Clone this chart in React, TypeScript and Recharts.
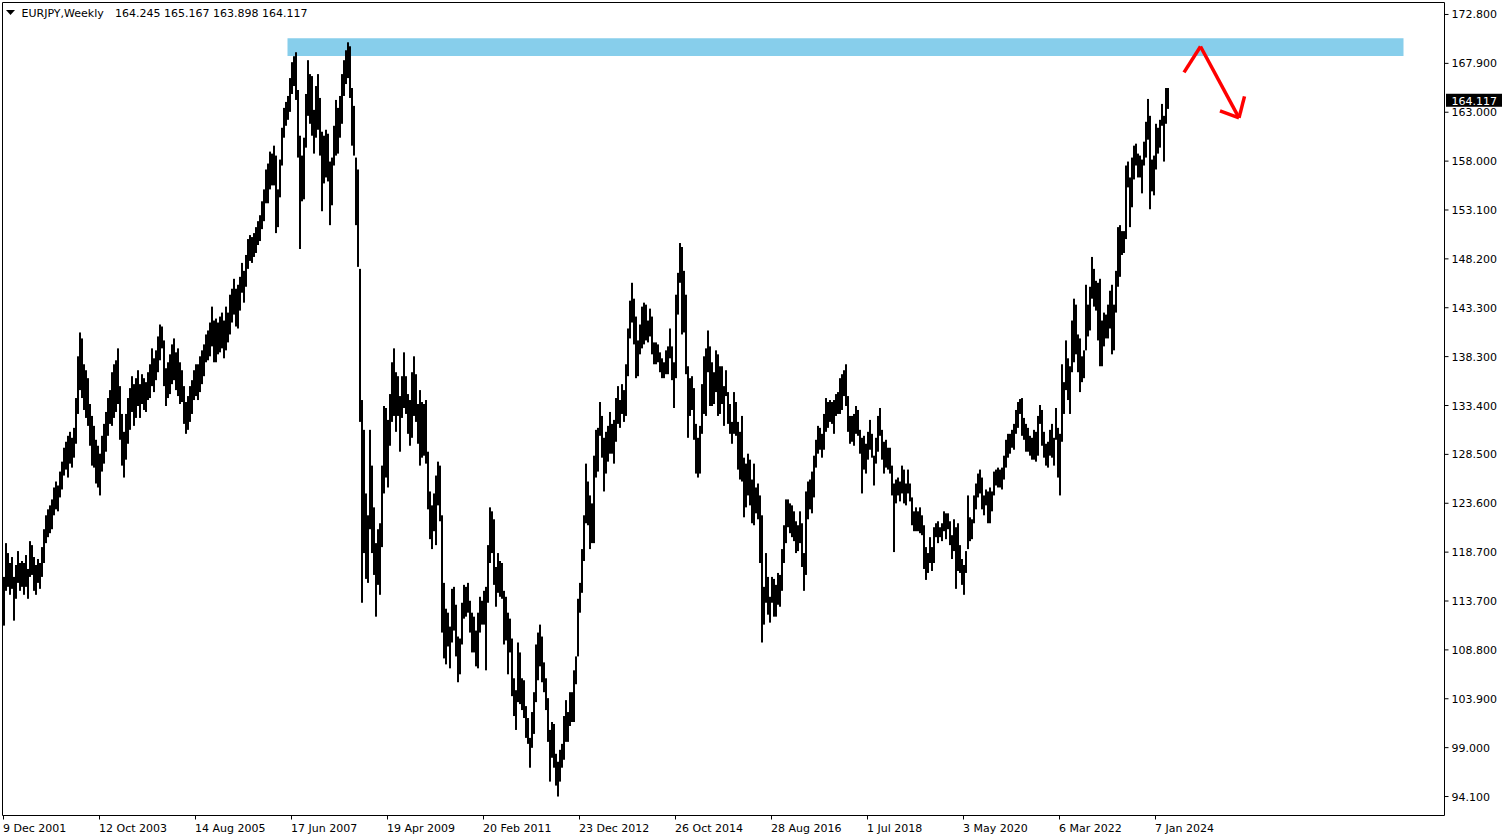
import React from 'react';
import { ComposedChart, Bar, XAxis, YAxis, ReferenceArea, ReferenceLine } from 'recharts';

// ---- header / last bar ----
const symbolTitle = 'EURJPY,Weekly';
const lastOHLC = [164.245, 165.167, 163.898, 164.117];

// ---- axis ticks ----
const xTickWeeks = [0, 96, 192, 288, 384, 480, 576, 672, 768, 864, 960, 1056, 1152];
const xTickLabels = ['9 Dec 2001', '12 Oct 2003', '14 Aug 2005', '17 Jun 2007', '19 Apr 2009', '20 Feb 2011', '23 Dec 2012', '26 Oct 2014', '28 Aug 2016', '1 Jul 2018', '3 May 2020', '6 Mar 2022', '7 Jan 2024'];
const yTickValues = [172.8, 167.881, 162.963, 158.044, 153.125, 148.206, 143.288, 138.369, 133.45, 128.531, 123.613, 118.694, 113.775, 108.856, 103.938, 99.019, 94.1];
const yTickLabels = ['172.800', '167.900', '163.000', '158.000', '153.100', '148.200', '143.300', '138.300', '133.400', '128.500', '123.600', '118.700', '113.700', '108.800', '103.900', '99.000', '94.100'];
const xDomain = [-1, 1441];
const yDomain = [92.19, 174.006];

// ---- annotations ----
const zoneWeeks = [284, 1400];
const zonePrices = [168.61, 170.42];
const arrowWeeks = [1180.5, 1197, 1235.5];
const arrowPrices = [166.97, 169.58, 162.4];
const arrowHeadWeeks = [1216.5, 1241];
const arrowHeadPrices = [163.1, 164.56];

// ---- two-week low/high ranges (each entry covers 2 weekly bars) ----
const r2001 = [[111.3,116.2],[114.8,119.6]];
const r2002 = [[115.2,118.6],[114.4,117.6],[115.0,118.2],[111.8,116.2],[114.0,117.4],[115.6,118.8],[114.8,117.6],[115.2,117.8],[114.4,117.6],[115.2,118.4],[114.0,117.0],[116.2,119.8],[116.4,119.4],[114.8,118.2],[114.4,117.4],[115.6,118.0],[115.0,117.6],[116.2,119.2],[117.6,121.0],[119.6,122.4],[120.2,123.0],[120.6,123.4],[121.0,124.0],[122.4,125.2],[123.0,125.8],[122.8,125.4]];
const r2003 = [[124.2,126.8],[125.0,127.8],[126.4,129.2],[127.0,129.8],[126.2,130.4],[127.6,130.8],[127.2,130.2],[128.2,131.2],[129.6,134.2],[132.6,138.4],[135.0,140.8],[134.2,140.2],[133.0,137.6],[132.2,137.0],[131.4,136.2],[129.4,133.6],[127.4,132.4],[127.2,131.4],[125.6,130.0],[125.2,129.4],[124.4,128.6],[126.8,130.4],[127.6,131.6],[128.8,132.8],[130.4,134.2],[131.6,135.0]];
const r2004 = [[131.4,136.8],[132.2,137.6],[132.8,138.0],[133.6,139.2],[130.0,135.4],[127.4,132.6],[126.2,130.8],[128.0,132.6],[129.6,134.2],[131.0,135.2],[132.8,136.4],[131.4,135.6],[132.2,136.2],[133.4,137.0],[132.2,135.6],[133.6,136.6],[133.0,136.2],[132.8,135.8],[134.0,136.8],[134.2,137.6],[135.4,139.2],[134.8,138.2],[136.0,139.0],[136.8,140.4],[138.0,141.6],[139.2,141.4]];
const r2005 = [[135.4,140.0],[133.4,137.2],[134.2,137.8],[134.6,138.6],[135.6,139.6],[136.0,140.2],[135.0,138.8],[134.4,139.2],[133.6,137.8],[133.8,137.0],[131.6,135.4],[130.6,133.8],[131.0,134.4],[131.8,135.4],[132.6,136.0],[134.0,137.0],[134.4,137.6],[134.0,137.6],[134.8,138.4],[135.6,139.0],[136.4,139.6],[137.8,140.6],[138.0,141.0],[138.4,141.8],[139.4,143.4],[137.8,142.0]];
const r2006 = [[137.8,142.2],[138.6,141.8],[138.8,142.4],[139.2,142.8],[138.2,142.0],[139.0,143.4],[139.8,142.8],[140.6,144.6],[141.8,145.2],[142.6,146.2],[141.4,145.2],[141.2,145.6],[143.0,146.4],[144.8,147.8],[143.8,147.0],[145.4,148.6],[147.2,150.2],[148.0,150.6],[147.8,150.4],[148.4,150.8],[148.8,151.4],[149.6,152.0],[150.0,152.6],[151.2,154.0],[152.0,155.2],[153.8,157.2]];
const r2007 = [[153.8,157.8],[155.2,159.0],[155.6,158.8],[155.6,159.6],[150.8,158.6],[151.4,155.2],[154.4,158.2],[157.6,161.4],[160.4,163.4],[161.6,164.0],[162.2,164.6],[163.0,166.4],[164.8,168.0],[165.6,168.6],[164.2,169.0],[158.4,165.2],[149.2,160.6],[154.0,158.6],[154.2,160.4],[159.4,164.8],[162.6,168.2],[161.8,166.8],[160.6,166.6],[158.8,163.2],[160.4,165.6],[161.2,166.8]];
const r2008 = [[158.6,164.4],[153.0,161.0],[155.8,160.6],[156.4,161.2],[156.0,160.8],[151.6,158.0],[153.6,158.4],[157.6,161.6],[158.6,164.2],[158.8,163.4],[160.4,164.6],[161.8,166.8],[164.6,168.2],[165.8,169.2],[166.4,170.0],[164.4,169.6],[159.6,165.4],[158.6,163.6],[151.6,158.4],[147.4,157.2],[131.8,147.2],[113.6,134.0],[118.6,131.0],[116.0,124.6],[115.6,122.4],[121.0,131.0]];
const r2009 = [[118.6,127.4],[116.4,123.2],[112.2,119.6],[115.4,121.0],[114.4,121.6],[119.2,127.4],[124.6,133.4],[126.2,133.2],[125.2,132.0],[129.4,134.6],[131.8,137.8],[132.4,139.2],[130.8,136.8],[132.4,136.4],[128.8,134.4],[132.2,136.4],[133.2,138.8],[132.6,136.4],[130.6,134.6],[129.4,134.0],[130.2,136.8],[132.4,138.4],[131.8,136.6],[129.6,133.6],[127.4,135.0],[128.2,133.8]];
const r2010 = [[128.4,133.6],[127.6,134.0],[123.0,128.8],[120.0,124.8],[119.0,123.4],[120.8,124.6],[119.4,126.4],[123.4,127.8],[121.8,127.4],[110.6,122.4],[108.0,115.6],[107.4,113.0],[109.2,112.6],[107.0,111.2],[109.6,115.0],[110.8,115.2],[108.2,113.4],[105.6,110.2],[106.4,110.0],[109.4,113.6],[112.0,115.4],[112.2,115.2],[112.6,115.6],[110.6,113.8],[108.6,112.6],[108.6,112.2]];
const r2011 = [[107.2,110.8],[107.0,112.6],[110.6,114.2],[111.4,113.8],[111.4,114.8],[106.8,115.2],[113.6,119.4],[117.6,123.2],[118.6,122.8],[115.4,122.0],[113.2,117.2],[114.6,118.6],[114.2,117.8],[114.0,117.6],[109.4,114.8],[109.8,114.2],[106.4,112.6],[108.6,112.0],[104.2,110.0],[102.2,106.0],[100.8,104.8],[103.6,109.6],[103.4,108.6],[102.8,106.0],[102.0,105.8],[100.0,103.2]];
const r2012 = [[99.4,102.0],[97.0,100.0],[99.0,102.6],[100.4,104.6],[103.6,109.4],[105.8,110.6],[107.2,111.4],[105.6,110.2],[104.6,107.6],[102.8,106.0],[99.6,104.0],[95.6,100.8],[98.0,101.6],[97.0,101.4],[95.2,98.4],[94.1,97.6],[95.6,98.8],[97.0,99.4],[97.8,102.2],[99.6,103.8],[99.6,102.6],[101.2,104.6],[101.6,104.6],[101.6,106.8],[105.4,108.2],[108.2,114.0]];
const r2013 = [[112.6,115.6],[114.6,119.0],[117.8,122.4],[121.6,127.6],[121.4,125.8],[119.0,124.4],[119.6,123.6],[119.6,128.4],[126.2,131.0],[126.8,131.2],[130.4,133.8],[128.2,132.4],[124.8,130.2],[126.6,130.8],[127.8,131.4],[128.6,132.8],[128.6,131.6],[127.6,132.0],[129.8,134.2],[131.6,135.4],[131.2,134.0],[132.6,135.6],[131.8,135.0],[132.4,137.6],[136.4,141.2],[140.2,144.0]];
const r2014 = [[141.8,145.8],[139.6,144.2],[136.2,142.4],[136.4,140.0],[138.6,141.6],[139.2,143.4],[139.6,143.8],[140.0,143.6],[139.8,142.0],[140.4,143.2],[138.6,142.4],[137.6,139.8],[137.6,139.8],[137.8,139.6],[136.8,138.8],[136.2,138.2],[136.2,137.8],[136.6,139.0],[136.6,139.4],[138.2,141.2],[136.0,139.4],[133.2,137.8],[136.2,144.6],[142.6,146.8],[145.8,149.8],[140.6,149.4]];
const r2015 = [[140.8,147.0],[136.6,144.6],[130.2,137.4],[132.4,136.2],[133.0,136.4],[130.0,135.2],[126.6,131.6],[126.2,130.2],[126.6,131.4],[130.6,135.6],[132.6,138.4],[132.4,139.2],[136.8,141.0],[133.4,139.4],[133.4,137.8],[133.6,136.8],[134.8,139.0],[132.4,138.6],[132.6,137.4],[133.6,137.4],[131.4,135.4],[134.4,137.0],[131.6,134.8],[130.6,133.6],[129.6,131.8],[130.6,134.8]];
const r2016 = [[130.4,133.8],[127.0,131.8],[126.0,130.8],[125.8,132.4],[122.2,128.2],[123.2,127.6],[124.4,128.6],[123.4,128.0],[121.6,126.0],[121.4,127.6],[122.6,125.2],[122.0,125.6],[117.6,124.4],[109.6,122.4],[111.4,115.2],[113.6,118.6],[112.4,116.2],[111.6,114.2],[113.6,116.2],[112.2,116.0],[112.2,115.4],[113.4,116.6],[113.2,116.4],[114.8,119.0],[117.6,121.4],[119.6,124.0]];
const r2017 = [[121.2,124.0],[120.6,123.6],[120.2,123.4],[119.8,122.8],[118.6,121.8],[118.8,121.4],[119.6,122.8],[117.2,121.6],[114.8,118.6],[116.4,124.8],[122.0,125.8],[123.0,126.0],[122.6,126.8],[124.2,128.4],[127.2,130.0],[128.6,131.4],[129.0,131.2],[128.2,130.6],[129.0,132.6],[130.8,134.2],[131.2,133.8],[131.8,134.0],[131.6,133.8],[130.6,134.0],[132.4,134.6],[132.6,134.8]];
const r2018 = [[132.6,136.2],[133.0,136.6],[134.4,137.0],[133.4,137.6],[130.8,134.4],[129.6,132.4],[129.8,132.4],[129.4,132.6],[130.6,133.4],[130.4,133.0],[128.6,131.0],[124.6,130.2],[127.0,130.4],[126.6,129.6],[128.0,130.8],[129.0,132.0],[128.2,130.6],[125.4,128.4],[127.6,130.2],[128.8,132.4],[130.4,133.2],[128.0,131.0],[126.6,129.8],[127.2,130.0],[127.0,129.2],[126.6,129.2]];
const r2019 = [[124.4,127.4],[118.7,125.6],[123.6,126.0],[124.4,126.2],[123.8,125.8],[124.6,127.4],[123.6,127.0],[123.4,125.6],[124.6,127.0],[123.8,125.6],[121.4,124.2],[120.8,122.8],[120.8,123.2],[120.8,122.8],[120.6,123.2],[120.4,122.4],[117.0,121.4],[115.9,119.2],[116.6,118.6],[117.6,120.2],[116.8,119.2],[117.6,121.2],[120.2,121.6],[119.6,121.8],[120.2,121.2],[119.8,121.6]];
const r2020 = [[120.8,122.8],[120.0,122.6],[121.0,122.6],[119.4,121.8],[118.0,120.4],[118.8,122.0],[115.0,121.2],[116.8,121.6],[116.6,119.4],[115.4,118.0],[114.4,117.4],[116.6,118.8],[119.0,124.4],[119.8,122.2],[120.0,122.0],[121.6,124.4],[123.0,125.6],[124.2,126.6],[124.6,127.0],[123.0,126.2],[122.4,124.4],[123.4,125.0],[121.6,124.8],[121.6,125.2],[122.8,124.8],[124.4,126.8]];
const r2021 = [[125.4,127.0],[125.2,127.2],[125.2,127.0],[125.0,127.2],[126.0,128.4],[127.2,130.0],[128.2,130.6],[128.6,130.6],[129.2,131.0],[129.0,131.6],[130.6,133.0],[131.2,133.8],[132.6,134.1],[130.4,134.2],[130.0,132.2],[128.8,131.6],[128.8,131.2],[128.4,130.4],[128.0,130.2],[128.0,131.0],[127.8,130.8],[128.4,132.4],[131.6,133.5],[129.4,133.0],[128.2,130.8],[127.4,129.6]];
const r2022 = [[127.2,129.8],[128.4,131.0],[128.2,131.6],[127.4,130.2],[130.0,133.2],[126.2,131.2],[124.4,130.6],[129.8,137.6],[132.6,135.8],[135.0,140.0],[134.0,138.2],[132.6,137.4],[136.8,142.0],[137.8,144.2],[138.6,143.6],[136.8,140.6],[134.8,140.2],[135.8,138.4],[136.2,139.0],[139.0,145.6],[140.4,143.6],[141.0,145.4],[144.2,148.4],[143.4,147.2],[143.0,146.0],[140.0,145.8]];
const r2023 = [[137.4,146.2],[137.4,142.0],[139.4,142.8],[140.2,142.6],[140.2,143.6],[141.2,145.0],[138.6,145.6],[139.0,143.6],[142.8,147.0],[145.4,151.4],[146.4,151.6],[148.6,151.0],[148.8,151.0],[150.2,157.6],[155.4,158.0],[151.4,156.4],[153.4,158.4],[156.2,159.6],[157.6,159.8],[156.4,158.8],[156.4,158.6],[154.8,158.2],[157.6,160.0],[158.4,162.0],[160.2,164.3],[153.2,162.6]];
const r2024 = [[155.0,158.2],[154.6,158.6],[157.2,161.8],[158.8,161.4],[159.4,162.2],[161.6,163.8],[158.0,162.6],[161.8,165.4],[163.3,165.4]];

const allRanges = [
  ...r2001, ...r2002, ...r2003, ...r2004, ...r2005, ...r2006, ...r2007, ...r2008,
  ...r2009, ...r2010, ...r2011, ...r2012, ...r2013, ...r2014, ...r2015, ...r2016,
  ...r2017, ...r2018, ...r2019, ...r2020, ...r2021, ...r2022, ...r2023, ...r2024,
];

// each entry spans weeks 2k and 2k+1; its time coordinate is the middle of those two weeks
const data = allRanges.map((r, k) => ({ week: 2 * k + 0.5, range: [r[0], r[1]] }));

const FONT = '"DejaVu Sans", Tahoma, sans-serif';

const RangeBar = (props: any) => {
  const { x, y, width, height } = props;
  if (x == null || y == null) return null;
  const cx = x + width / 2;
  const top = Math.min(y, y + height);
  const h = Math.max(Math.abs(height), 1);
  return <rect x={Math.round(cx - 1)} y={top} width={2} height={h} fill="#000" />;
};

const XTick = (props: any) => {
  const { x, y, payload } = props;
  const i = xTickWeeks.indexOf(payload.value);
  return (
    <text x={x - 0.5} y={y} dy={10} textAnchor="start" fontFamily={FONT} fontSize={11} fill="#000">
      {i >= 0 ? xTickLabels[i] : ''}
    </text>
  );
};

const YTick = (props: any) => {
  const { x, y, payload } = props;
  const i = yTickValues.indexOf(payload.value);
  return (
    <text x={x} y={y} dy={4} textAnchor="start" fontFamily={FONT} fontSize={11} fill="#000">
      {i >= 0 ? yTickLabels[i] : ''}
    </text>
  );
};

const PriceTag = (props: any) => {
  const vb = props.viewBox || {};
  const right = (vb.x || 0) + (vb.width || 0);
  const y = vb.y || 0;
  return (
    <g>
      <rect x={right + 1.5} y={y - 7} width={56} height={13} fill="#000" />
      <text x={right + 7} y={y + 4} textAnchor="start" fontFamily={FONT} fontSize={11} fill="#fff">
        {lastOHLC[3].toFixed(3)}
      </text>
    </g>
  );
};

export default function App() {
  return (
    <div style={{ position: 'absolute', left: 0, top: 0, width: 1508, height: 840, background: '#fff' }}>
      <ComposedChart
        width={1508}
        height={840}
        data={data}
        margin={{ top: 2.5, right: 0, left: 2.5, bottom: 0 }}
      >
        <XAxis
          dataKey="week"
          type="number"
          domain={xDomain}
          allowDataOverflow
          ticks={xTickWeeks}
          interval={0}
          height={24.5}
          tickSize={4}
          tickMargin={2}
          axisLine={{ stroke: '#000' }}
          tickLine={{ stroke: '#000' }}
          tick={<XTick />}
        />
        <YAxis
          orientation="right"
          type="number"
          domain={yDomain}
          allowDataOverflow
          ticks={yTickValues}
          interval={0}
          width={63.5}
          tickSize={4}
          tickMargin={3}
          axisLine={{ stroke: '#000' }}
          tickLine={{ stroke: '#000' }}
          tick={<YTick />}
        />
        <ReferenceLine y={yDomain[1]} stroke="#000" ifOverflow="extendDomain" />
        <ReferenceLine x={xDomain[0]} stroke="#000" ifOverflow="extendDomain" />
        <ReferenceArea
          x1={zoneWeeks[0]}
          x2={zoneWeeks[1]}
          y1={zonePrices[0]}
          y2={zonePrices[1]}
          fill="#87CEEB"
          fillOpacity={1}
          stroke="none"
        />
        <Bar dataKey="range" barSize={2} fill="#000" isAnimationActive={false} shape={<RangeBar />} />
        <ReferenceLine
          segment={[{ x: arrowWeeks[0], y: arrowPrices[0] }, { x: arrowWeeks[1], y: arrowPrices[1] }]}
          stroke="#ff0000"
          strokeWidth={3.5}
        />
        <ReferenceLine
          segment={[{ x: arrowWeeks[1], y: arrowPrices[1] }, { x: arrowWeeks[2], y: arrowPrices[2] }]}
          stroke="#ff0000"
          strokeWidth={3.5}
        />
        <ReferenceLine
          segment={[{ x: arrowHeadWeeks[0], y: arrowHeadPrices[0] }, { x: arrowWeeks[2], y: arrowPrices[2] }]}
          stroke="#ff0000"
          strokeWidth={3.5}
        />
        <ReferenceLine
          segment={[{ x: arrowHeadWeeks[1], y: arrowHeadPrices[1] }, { x: arrowWeeks[2], y: arrowPrices[2] }]}
          stroke="#ff0000"
          strokeWidth={3.5}
        />
        <ReferenceLine y={lastOHLC[3]} stroke="none" label={<PriceTag />} />
      </ComposedChart>
      <svg
        width={420}
        height={24}
        style={{ position: 'absolute', left: 0, top: 0, pointerEvents: 'none' }}
      >
        <polygon points="6,10 15,10 10.5,15" fill="#000" />
        <text x={21.5} y={17.3} fontFamily={FONT} fontSize={11} fill="#000">
          {symbolTitle}
        </text>
        <text x={115} y={17.3} fontFamily={FONT} fontSize={11} fill="#000">
          {lastOHLC.map((v) => v.toFixed(3)).join(' ')}
        </text>
      </svg>
    </div>
  );
}
